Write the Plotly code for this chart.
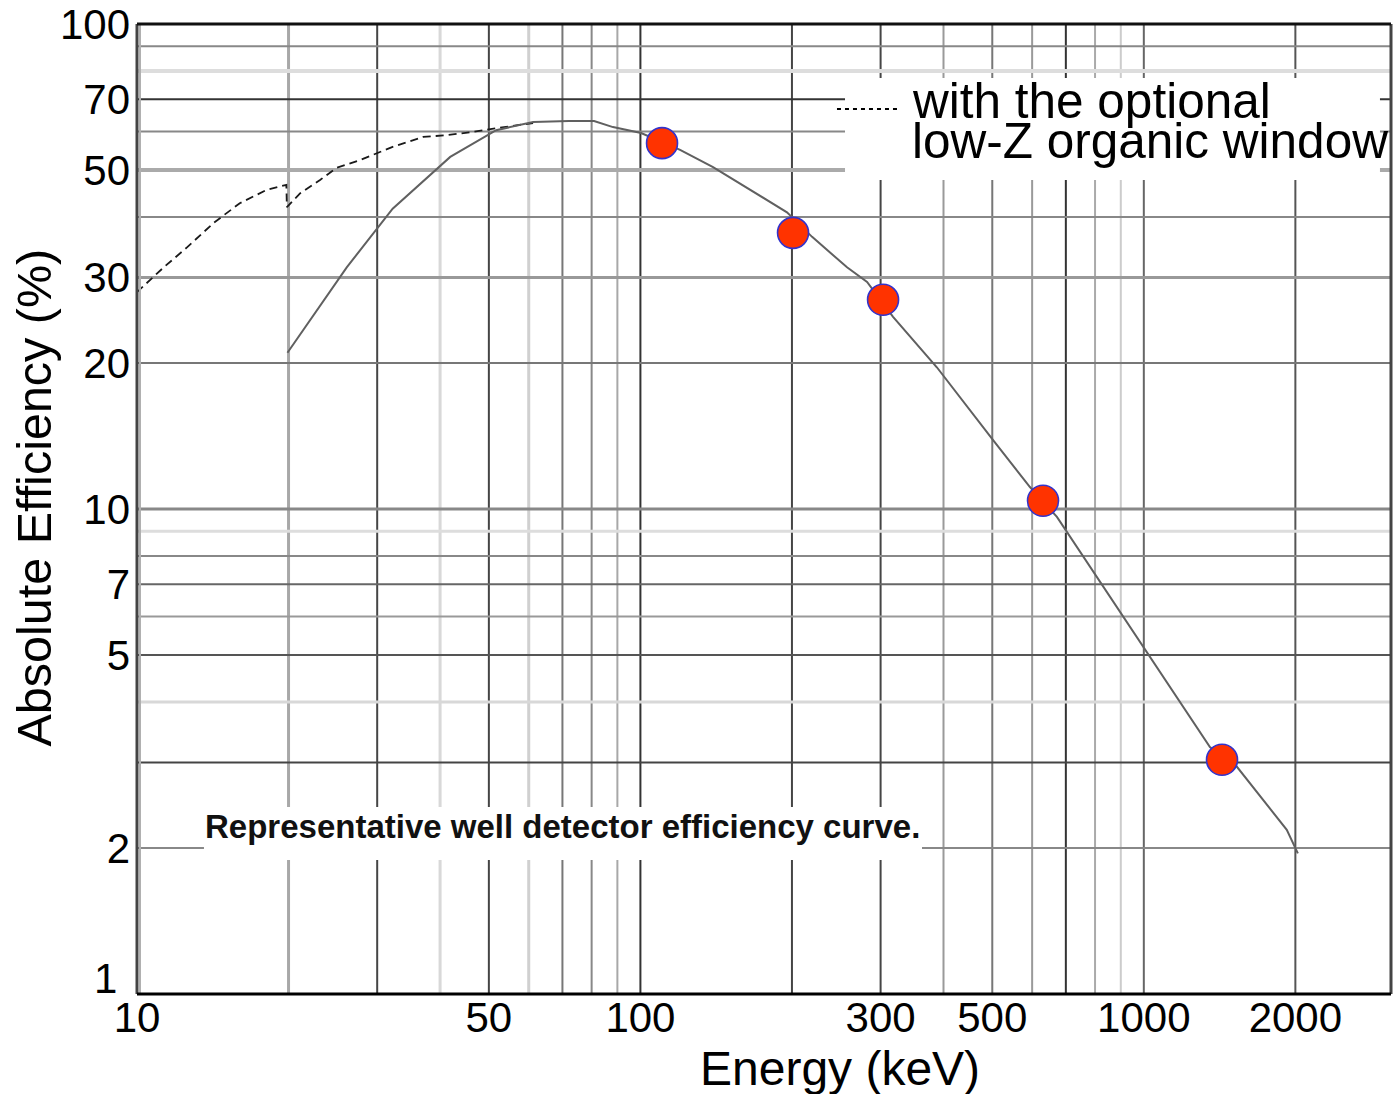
import plotly.graph_objects as go

# ---------------- data ----------------
# standard (solid) efficiency curve
solid_energy = [19.9, 26.1, 32.2, 41.9, 51.7, 61.2, 72.1, 80.9, 88.2, 100.3, 119.9, 139.4,
                195.5, 219.3, 257.3, 282.0, 317.6, 388.0, 501.0, 594.0, 672.0, 736.0,
                1353.0, 1531.0, 1923.0, 2023.0]
solid_eff = [21.0, 31.5, 41.6, 53.2, 60.4, 62.8, 63.1, 63.1, 61.3, 59.6, 55.0, 50.7,
             40.9, 36.4, 31.5, 29.4, 24.9, 19.6, 13.9, 11.1, 9.63, 8.35,
             3.23, 2.94, 2.18, 1.95]

# curve with the optional low-Z organic window (dashed)
window_energy = [10.0, 11.3, 12.6, 14.2, 16.0, 18.1, 19.8, 19.85, 21.1, 23.1, 24.9, 27.7,
                 32.2, 37.0, 41.3, 46.5, 51.9, 57.7, 61.2]
window_eff = [28.0, 31.5, 34.7, 38.9, 42.7, 45.5, 46.6, 41.9, 44.8, 47.7, 50.5, 52.4,
              55.8, 58.5, 59.0, 59.9, 61.0, 61.9, 62.5]

# measured points
point_energy = [110.4, 201.0, 303.4, 630.6, 1430.0]
point_eff = [56.8, 37.1, 27.0, 10.4, 3.04]

# tick labels
x_ticks = [10, 50, 100, 300, 500, 1000, 2000]
y_ticks = [2, 5, 7, 10, 20, 30, 50, 70, 100]
y_bottom_tick = 1

# grid lines: (value, colour, width)
v_grid = [(20, "#a8a8a8", 3), (30, "#454545", 2), (40, "#d8d8d8", 3), (50, "#454545", 2),
          (60, "#d0d0d0", 3), (70, "#777777", 2), (80, "#888888", 2), (90, "#a8a8a8", 2),
          (100, "#333333", 2), (200, "#454545", 2), (300, "#454545", 2), (400, "#9a9a9a", 2),
          (500, "#777777", 2), (600, "#9a9a9a", 2), (700, "#333333", 2), (800, "#aaaaaa", 2),
          (900, "#cccccc", 2), (1000, "#666666", 2), (2000, "#555555", 2)]
h_grid = [(2, "#888888", 2), (3, "#444444", 2), (4, "#d8d8d8", 3), (5, "#555555", 2),
          (6, "#999999", 2), (7, "#666666", 2), (8, "#888888", 2), (9, "#dddddd", 3),
          (10, "#888888", 3), (20, "#777777", 2), (30, "#999999", 3), (40, "#888888", 2),
          (50, "#aaaaaa", 4), (60, "#888888", 2), (70, "#333333", 2), (80, "#dddddd", 4),
          (90, "#888888", 2)]

FONT = "Liberation Sans, Arial, Helvetica, sans-serif"

fig = go.Figure()

fig.add_trace(go.Scatter(x=window_energy, y=window_eff, mode="lines",
                         line=dict(color="#1a1a1a", width=1.8, dash="8px,5px"),
                         showlegend=False, hoverinfo="skip"))
fig.add_trace(go.Scatter(x=solid_energy, y=solid_eff, mode="lines",
                         line=dict(color="#606060", width=2),
                         showlegend=False, hoverinfo="skip"))
fig.add_trace(go.Scatter(x=point_energy, y=point_eff, mode="markers",
                         marker=dict(size=31, color="#ff3300",
                                     line=dict(color="#3333cc", width=1.6)),
                         showlegend=False))

shapes = []
for val, col, w in v_grid:
    shapes.append(dict(type="line", xref="x", yref="paper", x0=val, x1=val, y0=0, y1=1,
                       line=dict(color=col, width=w), layer="below"))
for val, col, w in h_grid:
    shapes.append(dict(type="line", xref="paper", yref="y", x0=0, x1=1, y0=val, y1=val,
                       line=dict(color=col, width=w), layer="below"))

# white backgrounds behind the two text blocks
shapes.append(dict(type="rect", xref="paper", yref="paper", x0=0.5646, x1=0.9912,
                   y0=0.8392, y1=0.9443, fillcolor="white", line=dict(width=0), layer="below"))
shapes.append(dict(type="rect", xref="paper", yref="paper", x0=0.0534, x1=0.626,
                   y0=0.1381, y1=0.1928, fillcolor="white", line=dict(width=0), layer="below"))

# frame
shapes.append(dict(type="line", xref="paper", yref="paper", x0=0.0024, x1=0.0024, y0=0, y1=1,
                   line=dict(color="#b0b0b0", width=2), layer="above"))
shapes.append(dict(type="line", xref="paper", yref="paper", x0=0, x1=0, y0=0, y1=1,
                   line=dict(color="#444444", width=3), layer="above"))
shapes.append(dict(type="line", xref="paper", yref="paper", x0=1, x1=1, y0=0, y1=1,
                   line=dict(color="#444444", width=3), layer="above"))
shapes.append(dict(type="line", xref="paper", yref="paper", x0=0, x1=1, y0=1, y1=1,
                   line=dict(color="#111111", width=3), layer="above"))
shapes.append(dict(type="line", xref="paper", yref="paper", x0=0, x1=1, y0=0, y1=0,
                   line=dict(color="#000000", width=3), layer="above"))

# legend sample line
shapes.append(dict(type="line", xref="paper", yref="paper", x0=0.5582, x1=0.6085,
                   y0=0.9124, y1=0.9124, line=dict(color="#000000", width=2, dash="4px,4px"),
                   layer="above"))

annotations = [
    dict(text="with the optional", xref="paper", yref="paper", x=0.6164, y=0.9213,
         xanchor="left", yanchor="middle", showarrow=False,
         font=dict(family=FONT, size=49.5, color="#000")),
    dict(text="low-Z organic window", xref="paper", yref="paper", x=0.6164, y=0.8801,
         xanchor="left", yanchor="middle", showarrow=False,
         font=dict(family=FONT, size=49.5, color="#000")),
    dict(text="<b>Representative well detector efficiency curve.</b>", xref="paper", yref="paper",
         x=0.0526, y=0.1722, xanchor="left", yanchor="middle", showarrow=False,
         font=dict(family=FONT, size=33, color="#111")),
    dict(text="Energy (keV)", xref="paper", yref="paper", x=0.5606, y=-0.0763,
         xanchor="center", yanchor="middle", showarrow=False,
         font=dict(family=FONT, size=48, color="#000")),
    dict(text="Absolute Efficiency (%)", xref="paper", yref="paper", x=-0.0820, y=0.512,
         xanchor="center", yanchor="middle", textangle=-90, showarrow=False,
         font=dict(family=FONT, size=48.5, color="#000")),
    # bottom y tick label, lifted slightly like in the original
    dict(text=str(y_bottom_tick), xref="paper", yref="y", x=0, y=0, xshift=-18, yshift=16,
         xanchor="right", yanchor="middle", showarrow=False,
         font=dict(family=FONT, size=42, color="#000")),
]

fig.update_layout(
    width=1395, height=1094,
    margin=dict(l=137, r=4, t=24, b=100, autoexpand=False),
    paper_bgcolor="white", plot_bgcolor="white",
    shapes=shapes, annotations=annotations,
    font=dict(family=FONT, color="#000"),
    xaxis=dict(type="log", range=[1, 3.491], showgrid=False, zeroline=False, showline=False,
               tickvals=x_ticks, ticktext=[str(t) for t in x_ticks], ticks="",
               tickfont=dict(size=42, color="#000"), ticklabelstandoff=-5, automargin=False,
               ticklabeloverflow="allow"),
    yaxis=dict(type="log", range=[0, 2], showgrid=False, zeroline=False, showline=False,
               tickvals=y_ticks, ticktext=[str(t) for t in y_ticks], ticks="",
               tickfont=dict(size=42, color="#000"), ticklabelstandoff=6, automargin=False,
               ticklabeloverflow="allow"),
)

# remove the default page margin so the figure sits at the window's top-left corner
fig.write_html("out.html",
               config={"displayModeBar": False},
               post_script="document.body.style.margin='0px';document.body.style.overflow='hidden';")
